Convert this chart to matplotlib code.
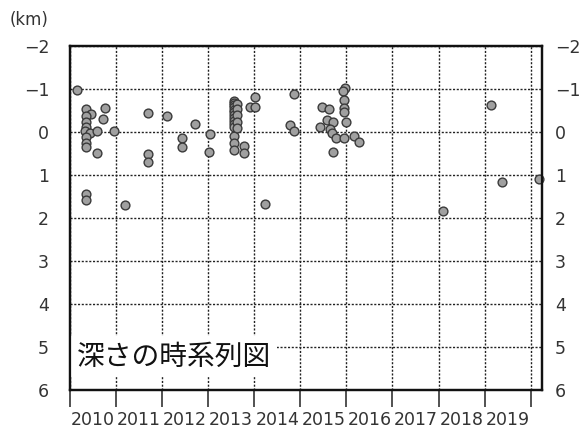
import numpy as np
import matplotlib
matplotlib.use("Agg")
import matplotlib.pyplot as plt
import matplotlib.ticker as mticker

plt.rcParams['font.family'] = ['DejaVu Sans', 'Noto Sans CJK JP']

# decimal year, depth (km)
year = [
    2010.15, 2010.34, 2010.46, 2010.75, 2010.72, 2010.34, 2010.34, 2010.34,
    2010.33, 2010.43, 2010.59, 2010.95, 2010.34, 2010.34, 2010.34, 2010.58,
    2010.34, 2010.34, 2011.20, 2011.70, 2011.70, 2011.70, 2012.10, 2012.44,
    2012.44, 2012.72, 2013.04, 2013.01,
    2013.57, 2013.57, 2013.57, 2013.57, 2013.57, 2013.57, 2013.57, 2013.57,
    2013.57, 2013.57, 2013.57, 2013.57, 2013.57, 2013.57,
    2013.63, 2013.63, 2013.63, 2013.63, 2013.63, 2013.78, 2013.78,
    2013.90, 2014.02, 2014.02, 2014.24, 2014.78, 2014.87, 2014.87,
    2015.46, 2015.62, 2015.58, 2015.72, 2015.43, 2015.64, 2015.69, 2015.78,
    2015.94, 2015.71, 2015.98, 2015.93, 2015.94, 2015.94, 2015.94, 2016.00,
    2016.16, 2016.28, 2018.10, 2019.13, 2019.38, 2020.17,
]
depth = [
    -0.98, -0.53, -0.41, -0.55, -0.30, -0.38, -0.24, -0.12,
    -0.01, 0.03, -0.03, -0.01, 0.12, 0.25, 0.34, 0.50,
    1.45, 1.58, 1.70, -0.45, 0.51, 0.71, -0.36, 0.15,
    0.36, -0.18, 0.05, 0.46,
    -0.72, -0.68, -0.63, -0.58, -0.52, -0.46, -0.40, -0.33,
    -0.26, -0.19, -0.12, 0.10, 0.26, 0.42,
    -0.66, -0.54, -0.39, -0.24, -0.09, 0.33, 0.50,
    -0.57, -0.57, -0.82, 1.67, -0.16, -0.88, -0.01,
    -0.57, -0.53, -0.28, -0.22, -0.12, -0.07, 0.03, 0.13,
    0.13, 0.47, -1.02, -0.94, -0.74, -0.55, -0.47, -0.24,
    0.09, 0.24, 1.83, -0.63, 1.16, 1.10,
]
year_labels = [str(y) for y in range(2010, 2020)]
depth_ticks = [-2, -1, 0, 1, 2, 3, 4, 5, 6]

fig = plt.figure(figsize=(5.83, 4.33), dpi=100)
ax = fig.add_axes([0.120, 0.0993, 0.810, 0.7947])

ax.scatter(year, depth, s=40, c="#a0a0a0", edgecolors="#3a3a3a",
           linewidths=1.0, zorder=3, clip_on=False)

ax.set_xlim(2010, 2020.25)
ax.set_ylim(6, -2)

ax.xaxis.set_major_locator(mticker.FixedLocator(range(2010, 2021)))
ax.xaxis.set_major_formatter(mticker.NullFormatter())
ax.xaxis.set_minor_locator(mticker.FixedLocator([y + 0.5 for y in range(2010, 2020)]))
ax.xaxis.set_minor_formatter(mticker.FixedFormatter(year_labels))
ax.tick_params(axis="x", which="major", direction="out", length=12,
               width=1.2, color="#333333")
ax.tick_params(axis="x", which="minor", length=0, pad=15,
               labelsize=12.5, labelcolor="#333333")

fmt = mticker.FuncFormatter(lambda v, _: f"{v:g}".replace("-", "\u2212"))
ax.set_yticks(depth_ticks)
ax.yaxis.set_major_formatter(fmt)
ax.tick_params(axis="y", length=0, pad=15, labelsize=12.5, labelcolor="#333333")

# right-hand depth labels
ax2 = ax.twinx()
ax2.set_ylim(ax.get_ylim())
ax2.set_yticks(depth_ticks)
ax2.yaxis.set_major_formatter(fmt)
ax2.tick_params(axis="y", length=0, pad=9, labelsize=12.5, labelcolor="#333333")

ax.grid(True, which="major", color="#222222", linestyle=(0, (1.5, 1.2)),
        linewidth=1.0)

for a in (ax, ax2):
    for sp in a.spines.values():
        sp.set_linewidth(1.6)
        sp.set_color("#111111")

fig.text(10 / 583, 1 - 20 / 433, "(km)", fontsize=12, color="#333333",
         va="center", ha="left")

ax.text(0.015, 0.097, "深さの時系列図", transform=ax.transAxes,
        fontsize=20, family=["Noto Sans CJK JP", "DejaVu Sans"],
        va="center", ha="left", color="#111111", zorder=4,
        bbox=dict(facecolor="white", edgecolor="none", pad=4))

fig.savefig("out.png", dpi=100)
